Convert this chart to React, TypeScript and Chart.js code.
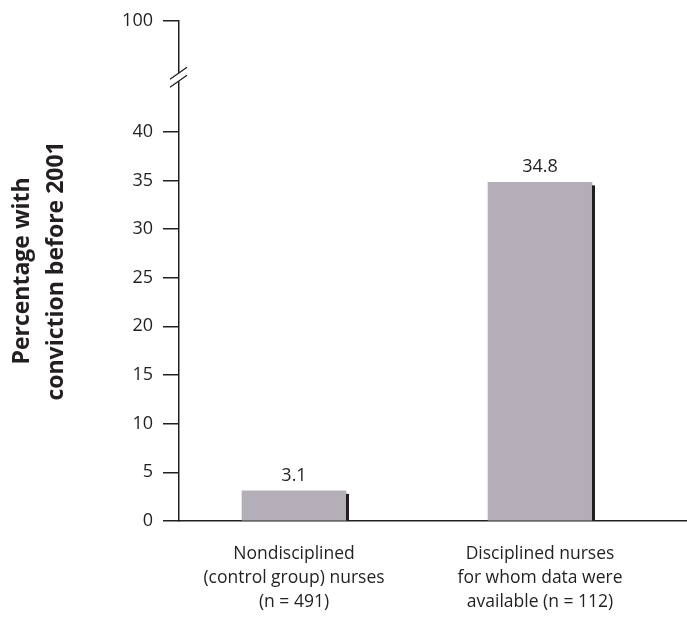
import React, { useEffect, useRef } from "react";
import { Chart, registerables } from "chart.js";

Chart.register(...registerables);

// ---- data ----
const CATEGORIES: string[][] = [
  ["Nondisciplined", "(control group) nurses", "(n = 491)"],
  ["Disciplined nurses", "for whom data were", "available (n = 112)"],
];
const VALUES: number[] = [3.1, 34.8];
const VALUE_LABELS: string[] = ["3.1", "34.8"];
const Y_TICK_LABELS: string[] = ["0", "5", "10", "15", "20", "25", "30", "35", "40", "100"];
const Y_TICK_VALUES: number[] = [0, 5, 10, 15, 20, 25, 30, 35, 40, 51.4]; // 100 drawn above the axis break
const Y_TITLE: string[] = ["Percentage with", "conviction before 2001"];

// ---- display constants ----
const Y_TOP = 51.4; // display position of the "100" tick (broken axis)
const BREAK_AT = 45.6; // where the axis break marks sit
const X_MIN = -0.4675;
const X_MAX = 1.5976;

const TEXT = "#231f20";
const AXIS = "#231f20";
const BAR = "#b3aeb8";
const SHADOW = "#231f20";
const FONT = "'Open Sans', sans-serif";

const decorPlugin = {
  id: "decor",
  afterDatasetsDraw(chart: any) {
    const ctx: CanvasRenderingContext2D = chart.ctx;
    const meta = chart.getDatasetMeta(0);
    ctx.save();
    meta.data.forEach((bar: any, i: number) => {
      const { x, y, width, base } = bar.getProps(["x", "y", "width", "base"], true);
      const right = x + width / 2;
      ctx.fillStyle = SHADOW;
      ctx.fillRect(right, y + 3, 3, base - y - 3);
      ctx.fillStyle = TEXT;
      ctx.font = `18px ${FONT}`;
      ctx.textAlign = "center";
      ctx.textBaseline = "alphabetic";
      ctx.fillText(VALUE_LABELS[i], x, y - 10);
    });
    // axis break
    const ys = chart.scales.y;
    const ax = chart.chartArea.left;
    const by = ys.getPixelForValue(BREAK_AT);
    ctx.fillStyle = "#ffffff";
    ctx.fillRect(ax - 3, by - 4, 6, 8);
    ctx.strokeStyle = AXIS;
    ctx.lineWidth = 1.3;
    for (const dy of [-4, 4]) {
      ctx.beginPath();
      ctx.moveTo(ax - 9, by + dy + 6);
      ctx.lineTo(ax + 8, by + dy - 6);
      ctx.stroke();
    }
    ctx.restore();
  },
};

export default function App() {
  const ref = useRef<HTMLCanvasElement | null>(null);
  useEffect(() => {
    if (!ref.current) return;
    Chart.defaults.font.family = FONT;
    Chart.defaults.color = TEXT;
    const chart = new Chart(ref.current, {
      type: "bar",
      data: {
        datasets: [
          {
            data: VALUES.map((v, i) => ({ x: i, y: v })),
            backgroundColor: BAR,
            borderWidth: 0,
            barThickness: 104,
          },
        ],
      },
      options: {
        animation: false,
        responsive: false,
        devicePixelRatio: 1,
        layout: { padding: { top: 20, right: 0, left: 0, bottom: 0 } },
        plugins: { legend: { display: false }, tooltip: { enabled: false } },
        scales: {
          x: {
            type: "linear",
            offset: false,
            min: X_MIN,
            max: X_MAX,
            afterBuildTicks: (s: any) => {
              s.ticks = CATEGORIES.map((_, i) => ({ value: i }));
            },
            afterFit: (s: any) => {
              s.height = 96;
            },
            grid: { display: false, offset: false },
            border: { display: true, color: AXIS, width: 1.5 },
            ticks: {
              autoSkip: false,
              maxRotation: 0,
              padding: 13,
              color: TEXT,
              font: { size: 17.5, lineHeight: 1.37 },
              callback: (v: any) => CATEGORIES[Math.round(Number(v))],
            },
          },
          y: {
            min: 0,
            max: Y_TOP,
            afterBuildTicks: (s: any) => {
              s.ticks = Y_TICK_VALUES.map((v) => ({ value: v }));
            },
            afterFit: (s: any) => {
              s.width = 179;
            },
            grid: {
              drawOnChartArea: false,
              drawTicks: true,
              tickLength: 16,
              color: AXIS,
              lineWidth: 1.5,
            },
            border: { display: true, color: AXIS, width: 1.5 },
            ticks: {
              autoSkip: false,
              padding: 10,
              color: TEXT,
              font: { size: 18 },
              callback: (_v: any, i: number) => Y_TICK_LABELS[i],
            },
            title: {
              display: true,
              text: Y_TITLE,
              color: TEXT,
              font: { size: 23, weight: "bold", lineHeight: 1.46 },
              padding: { top: 6, bottom: 0 },
            },
          },
        },
      },
      plugins: [decorPlugin],
    } as any);
    return () => chart.destroy();
  }, []);
  return (
    <div style={{ position: "absolute", left: 0, top: 0, width: 687, height: 617 }}>
      <canvas ref={ref} width={687} height={617} style={{ display: "block" }} />
    </div>
  );
}
